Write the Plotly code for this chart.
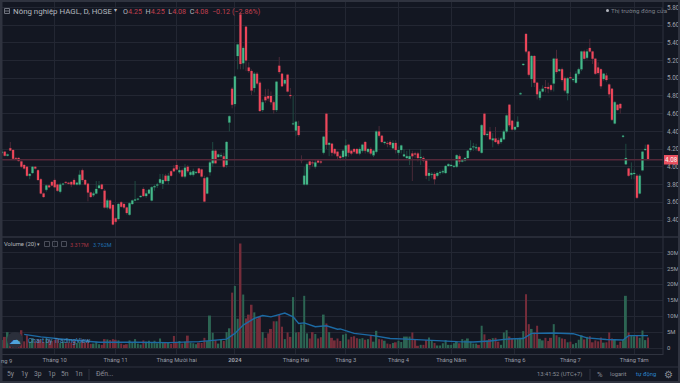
import plotly.graph_objects as go
from plotly.subplots import make_subplots

BG = "#131722"
RED = "#f0465a"
GREEN = "#45b98a"
RED_WICK = "#4a2a38"
GREEN_WICK = "#1f4a42"
GRID = "#232733"
FRAME = "#2f333f"

opens = [4.155,4.17,4.125,4.21,4.19,4.10,4.10,4.06,4.02,4.00,
3.90,3.93,4.00,3.96,3.86,3.70,3.74,3.79,3.83,3.85,
3.80,3.72,3.80,3.83,3.82,3.83,3.85,3.80,3.80,3.96,
3.85,3.81,3.71,3.68,3.70,3.76,3.80,3.73,3.54,3.62,
3.57,3.42,3.41,3.60,3.58,3.54,3.46,3.58,3.62,3.63,
3.66,3.75,3.67,3.70,3.62,3.77,3.79,3.82,3.81,3.90,
3.84,3.95,3.98,4.02,3.94,3.96,3.89,4.00,3.91,3.91,
3.93,3.98,3.97,3.87,3.70,3.94,4.04,4.18,4.11,4.12,
4.12,4.02,4.50,4.88,4.71,5.25,5.72,5.17,5.58,5.12,
5.08,4.89,5.05,4.95,4.64,4.79,4.80,4.80,4.73,4.64,
5.14,5.05,4.94,5.04,4.81,4.48,4.41,4.46,4.07,3.80,
3.80,4.06,4.05,4.00,4.07,4.06,4.16,4.60,4.25,4.26,
4.20,4.17,4.12,4.11,4.12,4.25,4.18,4.20,4.20,4.15,
4.18,4.28,4.17,4.20,4.13,4.17,4.40,4.35,4.27,4.27,
4.28,4.21,4.27,4.16,4.19,4.12,4.10,4.08,4.15,4.15,
4.15,4.10,4.10,4.07,3.90,3.91,3.92,3.90,3.93,3.94,
3.93,4.01,4.01,4.00,4.00,4.12,4.06,4.07,4.10,4.19,
4.22,4.21,4.22,4.16,4.60,4.36,4.40,4.30,4.32,4.30,
4.28,4.31,4.40,4.70,4.52,4.42,4.45,4.82,5.15,5.50,
5.30,4.99,5.25,4.95,4.78,4.85,4.90,4.90,4.92,4.94,
5.22,5.08,5.10,5.00,4.83,5.01,4.98,4.95,5.05,5.10,
5.30,5.23,5.34,5.30,5.22,5.12,5.10,4.99,5.03,4.93,
4.88,4.49,4.70,4.71,4.34,4.03,3.98,3.91,3.92,3.90,
3.70,3.96,4.19,4.25]
closes = [4.17,4.125,4.14,4.185,4.09,4.09,4.065,4.00,3.98,3.90,
3.92,4.00,3.98,3.85,3.70,3.66,3.79,3.77,3.79,3.77,
3.73,3.80,3.81,3.82,3.81,3.80,3.80,3.82,3.91,3.85,
3.80,3.71,3.66,3.70,3.75,3.79,3.75,3.54,3.62,3.53,
3.35,3.38,3.58,3.55,3.54,3.48,3.59,3.62,3.63,3.64,
3.67,3.67,3.70,3.74,3.77,3.78,3.80,3.86,3.85,3.84,
3.90,3.90,3.95,3.97,3.96,3.89,3.99,3.95,3.94,3.95,
3.94,3.93,3.89,3.61,3.88,4.05,4.18,4.04,4.14,4.13,
4.00,4.28,4.57,4.70,5.02,5.38,5.16,5.34,5.20,5.08,
4.86,5.05,4.94,4.63,4.73,4.75,4.77,4.73,4.64,4.96,
5.07,4.91,4.98,4.85,4.80,4.49,4.51,4.36,4.07,3.90,
4.03,4.02,4.04,4.05,4.05,4.05,4.34,4.25,4.27,4.16,
4.15,4.12,4.10,4.18,4.24,4.16,4.15,4.17,4.15,4.20,
4.25,4.18,4.20,4.15,4.18,4.40,4.35,4.28,4.28,4.26,
4.25,4.27,4.19,4.19,4.24,4.14,4.12,4.12,4.12,4.14,
4.10,4.11,4.07,3.90,3.93,3.92,3.86,3.93,3.94,3.95,
4.01,4.03,4.02,4.01,4.13,4.06,4.08,4.10,4.18,4.21,
4.23,4.22,4.18,4.47,4.36,4.37,4.31,4.32,4.28,4.26,
4.32,4.40,4.58,4.47,4.42,4.45,4.51,4.83,5.16,5.30,
5.04,5.25,4.95,4.82,4.85,4.88,4.89,4.88,4.87,5.22,
5.07,5.10,4.98,4.86,5.00,5.00,4.99,5.05,5.10,5.30,
5.22,5.30,5.30,5.22,5.05,5.06,4.91,5.05,4.98,4.82,
4.53,4.73,4.64,4.66,4.35,4.10,3.90,3.93,3.93,3.65,
3.90,4.17,4.20,4.08]
highs = [4.20,4.18,4.15,4.28,4.20,4.11,4.11,4.07,4.03,4.01,
3.93,4.01,4.01,3.97,3.87,3.71,3.80,3.80,3.84,3.87,
3.81,3.82,3.82,3.84,3.83,3.84,3.87,3.83,3.96,3.98,
3.86,3.82,3.72,3.72,3.84,3.84,3.81,3.75,3.64,3.63,
3.58,3.43,3.59,3.61,3.59,3.55,3.60,3.63,3.84,3.65,
3.68,3.77,3.74,3.75,3.78,3.80,3.82,3.92,3.92,3.92,
3.93,3.96,4.02,4.06,4.00,3.98,4.03,4.02,3.96,3.98,
3.95,3.99,3.98,3.90,3.89,4.07,4.28,4.20,4.15,4.16,
4.16,4.29,4.58,4.90,5.03,5.39,5.75,5.36,5.59,5.18,
5.10,5.07,5.07,4.97,4.76,4.88,4.88,4.85,4.75,4.97,
5.24,5.06,4.99,5.05,4.89,4.80,4.52,4.52,4.13,4.00,
4.05,4.07,4.07,4.08,4.08,4.08,4.35,4.61,4.28,4.27,
4.21,4.18,4.14,4.20,4.31,4.26,4.19,4.21,4.21,4.22,
4.26,4.29,4.21,4.22,4.19,4.41,4.46,4.36,4.29,4.29,
4.30,4.30,4.30,4.23,4.25,4.20,4.18,4.20,4.18,4.17,
4.17,4.20,4.12,4.08,3.98,3.94,3.94,3.95,3.96,3.97,
4.02,4.04,4.03,4.02,4.14,4.14,4.09,4.11,4.19,4.30,
4.27,4.26,4.23,4.48,4.61,4.40,4.45,4.38,4.45,4.33,
4.34,4.42,4.59,4.71,4.53,4.46,4.57,4.84,5.17,5.51,
5.31,5.26,5.26,4.96,4.88,4.92,4.98,4.95,4.93,5.23,
5.32,5.10,5.12,5.02,5.01,5.07,5.01,5.08,5.12,5.31,
5.32,5.33,5.44,5.31,5.23,5.18,5.11,5.06,5.06,4.94,
4.89,4.74,4.71,4.72,4.36,4.26,3.99,4.05,3.97,3.92,
3.92,4.18,4.25,4.25]
lows = [4.14,4.12,4.12,4.18,4.08,4.08,4.06,3.99,3.97,3.89,
3.86,3.92,3.97,3.85,3.69,3.65,3.72,3.76,3.78,3.76,
3.72,3.70,3.79,3.81,3.80,3.77,3.79,3.79,3.79,3.83,
3.79,3.61,3.65,3.66,3.69,3.75,3.74,3.53,3.52,3.51,
3.34,3.36,3.40,3.54,3.52,3.46,3.45,3.57,3.61,3.62,
3.65,3.66,3.65,3.69,3.61,3.73,3.76,3.80,3.75,3.83,
3.80,3.89,3.94,3.96,3.92,3.88,3.87,3.93,3.90,3.89,
3.92,3.92,3.88,3.60,3.69,3.90,4.00,4.03,4.10,4.10,
3.99,3.99,4.40,4.66,4.68,5.10,5.10,5.10,5.08,5.06,
4.81,4.84,4.92,4.62,4.62,4.72,4.74,4.70,4.60,4.62,
5.05,4.90,4.92,4.84,4.77,4.47,4.35,4.34,4.04,3.79,
3.79,3.97,4.00,3.98,4.04,4.03,4.14,4.20,4.12,4.12,
4.13,4.08,4.07,4.09,4.08,4.11,4.13,4.15,4.14,4.13,
4.16,4.15,4.15,4.13,4.11,4.15,4.33,4.27,4.25,4.22,
4.22,4.20,4.15,4.13,4.15,4.11,4.08,4.02,3.84,4.10,
4.06,4.02,4.05,3.86,3.84,3.87,3.80,3.88,3.91,3.92,
3.92,4.00,4.00,3.99,3.99,4.03,4.05,4.06,4.09,4.17,
4.18,4.18,4.17,4.15,4.35,4.34,4.30,4.22,4.27,4.24,
4.26,4.30,4.38,4.45,4.41,4.41,4.44,4.81,5.14,5.28,
5.02,4.90,4.90,4.76,4.75,4.84,4.84,4.83,4.85,4.85,
5.05,5.07,4.96,4.84,4.75,4.99,4.96,4.94,5.03,5.08,
5.21,5.21,5.29,5.16,5.04,5.04,4.88,4.97,4.96,4.78,
4.52,4.48,4.63,4.60,4.33,4.02,3.89,3.86,3.86,3.64,
3.69,3.95,4.18,4.08]
volumes = [2.5,3.5,5.0,3.8,3.0,3.2,4.6,5.6,2.1,4.0,
2.0,3.0,2.0,2.8,2.5,1.9,3.0,2.6,2.2,2.5,
2.8,1.6,2.0,1.5,1.8,1.7,2.2,1.6,1.9,2.6,
1.8,2.6,1.3,1.4,2.0,1.2,1.0,2.8,2.7,2.5,
2.8,2.6,2.4,1.4,1.0,1.2,2.4,1.7,2.8,1.4,
1.1,2.4,2.0,2.3,1.9,2.3,1.5,3.0,1.8,1.6,
1.8,1.3,3.8,1.7,2.2,1.4,2.0,3.9,1.7,1.5,
1.2,1.7,1.6,3.2,2.2,10.2,4.8,2.5,1.4,2.6,
2.2,5.0,6.2,17.4,19.5,9.2,32.8,16.8,9.3,10.5,
13.6,11.2,9.3,9.8,5.0,3.2,4.6,6.0,8.4,8.4,
10.4,6.7,2.8,4.9,3.5,16.0,4.9,5.0,7.4,16.4,
4.6,3.0,5.0,4.4,3.0,3.4,10.5,7.7,5.0,3.2,
2.4,3.0,2.2,4.2,4.5,2.7,3.5,3.7,3.1,2.9,
3.1,2.6,2.8,4.0,2.0,5.4,2.8,2.7,2.3,1.4,
1.2,1.6,1.8,2.3,1.9,3.6,3.6,3.6,4.9,2.8,
0.7,1.0,1.0,2.5,3.3,2.2,1.6,0.8,0.8,1.5,
2.5,1.0,1.0,1.5,2.1,1.5,2.8,2.4,3.0,2.0,
1.4,1.4,1.0,7.0,4.3,2.4,2.8,3.1,3.2,2.0,
1.0,4.9,5.6,3.6,3.0,2.8,3.0,3.2,5.3,16.9,
7.5,6.0,4.9,7.0,2.9,2.4,3.2,2.2,3.2,7.5,
4.0,3.4,3.0,2.8,1.8,2.0,1.2,1.6,2.6,4.0,
2.7,3.5,3.7,1.8,2.4,2.1,3.3,1.7,1.8,4.9,
3.0,2.8,1.0,2.0,2.5,16.4,4.9,4.0,3.7,4.0,
3.2,5.5,2.5,3.3]
ma_bars = [8,14,23,35,48,60,71,81,84,87,91,94,97,102,105,107,109,113,117,121,122,127,134,140,146,152,158,164,170,176,182,188,191,199,206,211,218,224,226,230,233]
ma_vals = [4.3,3.5,2.7,1.8,1.8,1.7,2.0,2.8,4.6,7.2,9.3,10.2,9.8,11.0,9.8,7.7,7.9,6.7,7.0,5.9,6.0,4.6,3.9,3.0,2.8,2.5,2.2,2.0,1.9,2.2,2.8,3.0,4.6,4.7,4.5,3.2,2.7,2.5,3.9,3.9,3.9]
month_bars = [19,41,63,84,106,124,143,162,185,205,228]
month_labels = ["Tháng 10","Tháng 11","Tháng Mười hai","<b>2024</b>","Tháng Hai","Tháng 3","Tháng 4","Tháng Năm","Tháng 6","Tháng 7","Tháng Tám"]
price_ticks = [3.4,3.6,3.8,4.0,4.2,4.4,4.6,4.8,5.0,5.2,5.4,5.6,5.8]
vol_ticks = [0,5,10,15,20,25,30]
vol_labels = ["0","5M","10M","15M","20M","25M","30M"]
last_close = 4.08

bars = list(range(len(opens)))
W, H = 680, 383
ML, MR, MT, MB = 0, 17, 2, 28
PW, PH = W - ML - MR, H - MT - MB
def px(x): return (x - ML) / PW
def py(y): return 1 - (y - MT) / PH

fig = make_subplots(rows=2, cols=1, shared_xaxes=True, vertical_spacing=0)

# wicks (thin, dim) then bodies (bright, no outline)
fig.add_trace(go.Candlestick(x=bars, open=opens, high=highs, low=lows, close=closes,
    increasing=dict(line=dict(color=GREEN_WICK, width=1), fillcolor=GREEN_WICK),
    decreasing=dict(line=dict(color=RED_WICK, width=1), fillcolor=RED_WICK),
    whiskerwidth=0, showlegend=False, hoverinfo="skip"), row=1, col=1)
fig.add_trace(go.Candlestick(x=bars, open=opens, high=highs, low=lows, close=closes,
    increasing=dict(line=dict(color=GREEN, width=0), fillcolor=GREEN),
    decreasing=dict(line=dict(color=RED, width=0), fillcolor=RED),
    whiskerwidth=0, showlegend=False, hoverinfo="skip"), row=1, col=1)

vol_colors = ["#2c6553" if c >= o else "#752d3a" for o, c in zip(opens, closes)]
fig.add_trace(go.Bar(x=bars, y=volumes, marker=dict(color=vol_colors, line=dict(width=0)),
    width=0.72, showlegend=False, hoverinfo="skip"), row=2, col=1)
fig.add_trace(go.Scatter(x=ma_bars, y=ma_vals, mode="lines",
    line=dict(color="#1c6aa4", width=1.4), showlegend=False, hoverinfo="skip"), row=2, col=1)

xrange = [-0.72, 238.4]
common_x = dict(range=xrange, showgrid=True, gridcolor=GRID, gridwidth=1, zeroline=False,
                tickmode="array", tickvals=month_bars, ticklen=0, showline=False,
                rangeslider=dict(visible=False))
fig.update_xaxes(**common_x, ticktext=month_labels, showticklabels=False, row=1, col=1)
fig.update_xaxes(**common_x, ticktext=month_labels, showticklabels=True,
                 tickfont=dict(size=5.8, color="#9a9da6", family="Roboto"), row=2, col=1)
fig.update_yaxes(range=[3.207, 5.86], side="right", domain=[0.334, 1], tickmode="array",
                 tickvals=price_ticks, ticktext=[f"{t:.2f}" for t in price_ticks],
                 showgrid=True, gridcolor=GRID, zeroline=False, ticklen=0, ticklabelstandoff=3,
                 tickfont=dict(size=6.3, color="#a0a3ab", family="Roboto"), row=1, col=1)
fig.update_yaxes(range=[-2.19, 34.4], side="right", domain=[0, 0.33], tickmode="array",
                 tickvals=vol_ticks, ticktext=vol_labels,
                 showgrid=True, gridcolor=GRID, zeroline=False, ticklen=0, ticklabelstandoff=3,
                 tickfont=dict(size=6, color="#a0a3ab", family="Roboto"), row=2, col=1)

shapes = [
    dict(type="line", xref="paper", yref="y", x0=0, x1=1, y0=last_close, y1=last_close,
         line=dict(color="#55293a", width=1.5)),
]
def frame(x0, y0, x1, y1, color=FRAME, w=1):
    shapes.append(dict(type="line", xref="paper", yref="paper", x0=px(x0), x1=px(x1),
                       y0=py(y0), y1=py(y1), line=dict(color=color, width=w)))
frame(0, 237, 680, 237, w=1.5)
frame(0, 354.5, 663, 354.5)
frame(0, 367, 680, 367)
frame(663, 0, 663, 355)
frame(1, 0, 1, 383, w=3)
frame(0, 1, 680, 1, w=2)
frame(0, 382, 680, 382, w=2)
frame(679, 0, 679, 383, w=2)
frame(89, 369, 89, 380)
frame(590, 369, 590, 380)
# last price tag
shapes.append(dict(type="rect", xref="paper", yref="paper", x0=px(664), x1=px(678),
                   y0=py(155), y1=py(164.5), fillcolor="#e8505f", line=dict(width=0)))
# legend icon and logo disc
shapes.append(dict(type="rect", xref="paper", yref="paper", x0=px(4.5), x1=px(9.5),
                   y0=py(8.5), y1=py(13.5), line=dict(color="#70747f", width=1)))
shapes.append(dict(type="line", xref="paper", yref="paper", x0=px(4.5), x1=px(9.5),
                   y0=py(11), y1=py(11), line=dict(color="#70747f", width=1)))
for ix in (47, 55, 64):
    shapes.append(dict(type="rect", xref="paper", yref="paper", x0=px(ix-2.5), x1=px(ix+2.5),
                       y0=py(241.5), y1=py(246.5), line=dict(color="#4a4e5a", width=1)))
shapes.append(dict(type="circle", xref="paper", yref="paper", x0=px(7), x1=px(23),
                   y0=py(332), y1=py(348), fillcolor="#2b2f3b", line=dict(width=0), layer="above"))
shapes.append(dict(type="circle", xref="paper", yref="paper", x0=px(606), x1=px(609),
                   y0=py(9), y1=py(12), fillcolor="#b2b5be", line=dict(width=0)))

notes = []
def note(x, y, text, size=8, color="#a8abb3", anchor="left"):
    notes.append(dict(xref="paper", yref="paper", x=px(x), y=py(y), text=text, showarrow=False,
                      xanchor=anchor, yanchor="middle", align=anchor,
                      font=dict(size=size, color=color, family="Roboto"),
                      borderpad=0, borderwidth=0))

R = "#c2404f"
note(13, 11, "Nông nghiệp HAGL, D, HOSE", 7.9, "#b4b7bf")
note(114, 10, "▾", 6, "#b4b7bf")
note(123, 11.5,
     f'O<span style="color:{R}">4.25</span>  H<span style="color:{R}">4.25</span>  '
     f'L<span style="color:{R}">4.08</span>  C<span style="color:{R}">4.08</span>  '
     f'<span style="color:{R}">−0.12 (−2.86%)</span>', 7.2, "#b4b7bf")
note(611, 10.5, "Thị trường đóng cửa", 6.2, "#7c7f88")
note(671, 160, "4.08", 6.3, "#f6f6f6", "center")
note(4, 244, "Volume (20)", 5.9, "#b4b7bf")
note(37, 243.5, "▾", 5, "#b4b7bf")
note(70, 244.5, "3.317M", 5.5, "#a83644")
note(93, 244.5, "3.762M", 5.5, "#1f6fb0")
note(15, 340, "☁", 12, "#4fa3dc", "center")
note(28, 340.5, "Chart by TradingView", 6.6, "#4a8fc0")
note(12, 361, "ng 9", 5.8, "#9a9da6", "right")
for xp, t in zip((11, 25, 38, 52, 65, 79), ("5y", "1y", "3p", "1p", "5n", "1n")):
    note(xp, 374, t, 6.8, "#8a8d96", "center")
note(96, 374, "Đến...", 6.8, "#8a8d96")
note(537, 374, "13:41:52 (UTC+7)", 5.8, "#8a8d96")
note(600, 374, "%", 7.5, "#8a8d96", "center")
note(610, 374, "logarit", 5.8, "#8a8d96")
note(636, 374, "tự động", 5.8, "#2a86cf")
note(668, 374, "⚙", 10, "#8a8d96", "center")

fig.update_layout(width=W, height=H, autosize=False,
                  margin=dict(l=ML, r=MR, t=MT, b=MB, pad=0),
                  paper_bgcolor=BG, plot_bgcolor=BG, barmode="overlay", bargap=0.25,
                  boxgap=0.0, showlegend=False, shapes=shapes, annotations=notes,
                  hovermode=False)
fig.write_html("out.html", config=dict(displayModeBar=False, responsive=False),
               post_script="document.body.style.margin='0';document.body.style.background='#131722';document.documentElement.style.overflow='hidden';")
